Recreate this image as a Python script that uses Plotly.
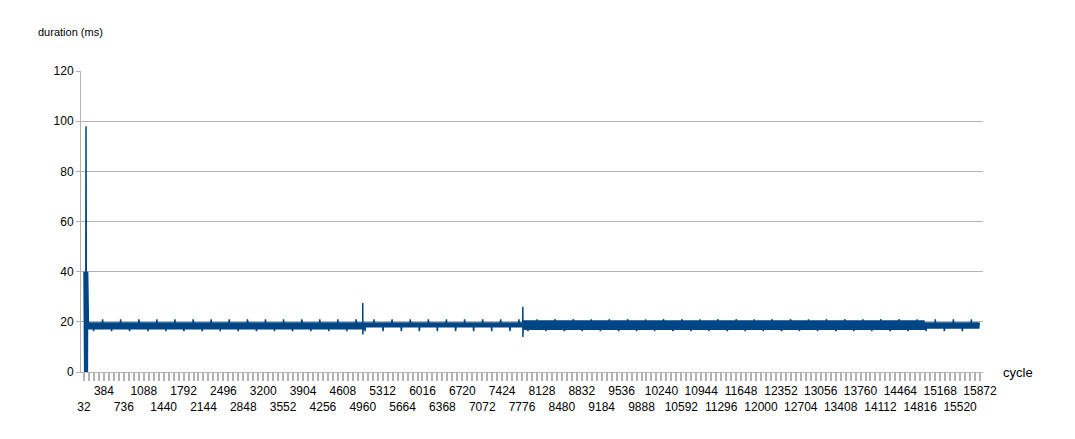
import numpy as np
import plotly.graph_objects as go

# band segments: start cycle, end cycle, low, high
seg_start = [32, 100, 4990, 7800, 14900]
seg_end = [100, 4990, 7800, 14900, 15872]
seg_low = [0, 17.0, 17.8, 16.8, 17.3]
seg_high = [40, 19.8, 19.8, 20.6, 19.8]
# isolated spikes: cycle, high value, low value
spike_cycle = [68, 4960, 7790]
spike_high = [98, 27.5, 26]
spike_low = [10, 15, 14]
# periodic small spikes
periodic_step = 160
periodic_high = 21.0
periodic_low = 16.3

xs, ys = [], []
for s, e, lo, hi in zip(seg_start, seg_end, seg_low, seg_high):
    step = 4 if e - s < 200 else 12
    for i, c in enumerate(range(s, e, step)):
        xs.append(c); ys.append(hi if i % 2 == 0 else lo)
for c in range(200, 15872, periodic_step):
    xs.append(c); ys.append(periodic_high if (c // periodic_step) % 2 == 0 else periodic_low)
for c, h, l in zip(spike_cycle, spike_high, spike_low):
    xs += [c, c + 1]; ys += [h, l]
order = np.argsort(xs, kind="stable")
xs = np.array(xs)[order]; ys = np.array(ys)[order]

tickvals = list(range(32, 15873, 352))
ticktext = [str(v) if i % 2 else "<br>" + str(v) for i, v in enumerate(tickvals)]

fig = go.Figure(go.Scatter(x=xs, y=ys, mode="lines", line=dict(color="#004586", width=1.5), hoverinfo="skip"))
fig.update_layout(
    width=1075, height=439, paper_bgcolor="white", plot_bgcolor="white",
    margin=dict(l=73, r=100, t=63, b=75), showlegend=False,
    font=dict(family="Liberation Sans, Arial", size=12, color="#000"),
)
fig.update_xaxes(range=[-21, 15925], tickvals=tickvals, ticktext=ticktext, tickangle=0,
                 ticks="outside", ticklen=8, tickcolor="#b3b3b3", tickwidth=2,
                 minor=dict(dtick=88, tick0=32, ticks="outside", ticklen=8, tickcolor="#b3b3b3", tickwidth=2),
                 showline=True, linecolor="#b3b3b3", showgrid=False, zeroline=False,
                 tickfont=dict(size=12), automargin=False)
fig.update_yaxes(range=[0, 120], dtick=20, showgrid=True, gridcolor="#b3b3b3", showline=True,
                 linecolor="#b3b3b3", ticks="outside", ticklen=4, tickcolor="#b3b3b3",
                 zeroline=False, tickfont=dict(size=12), automargin=False)
fig.add_annotation(text="duration (ms)", xref="paper", yref="paper", x=-0.05, y=1.157,
                   xanchor="left", showarrow=False, font=dict(size=11))
fig.add_annotation(text="cycle", xref="paper", yref="paper", x=1.02, y=0.0,
                   xanchor="left", yanchor="middle", showarrow=False, font=dict(size=13))
fig.write_html("out.html")
